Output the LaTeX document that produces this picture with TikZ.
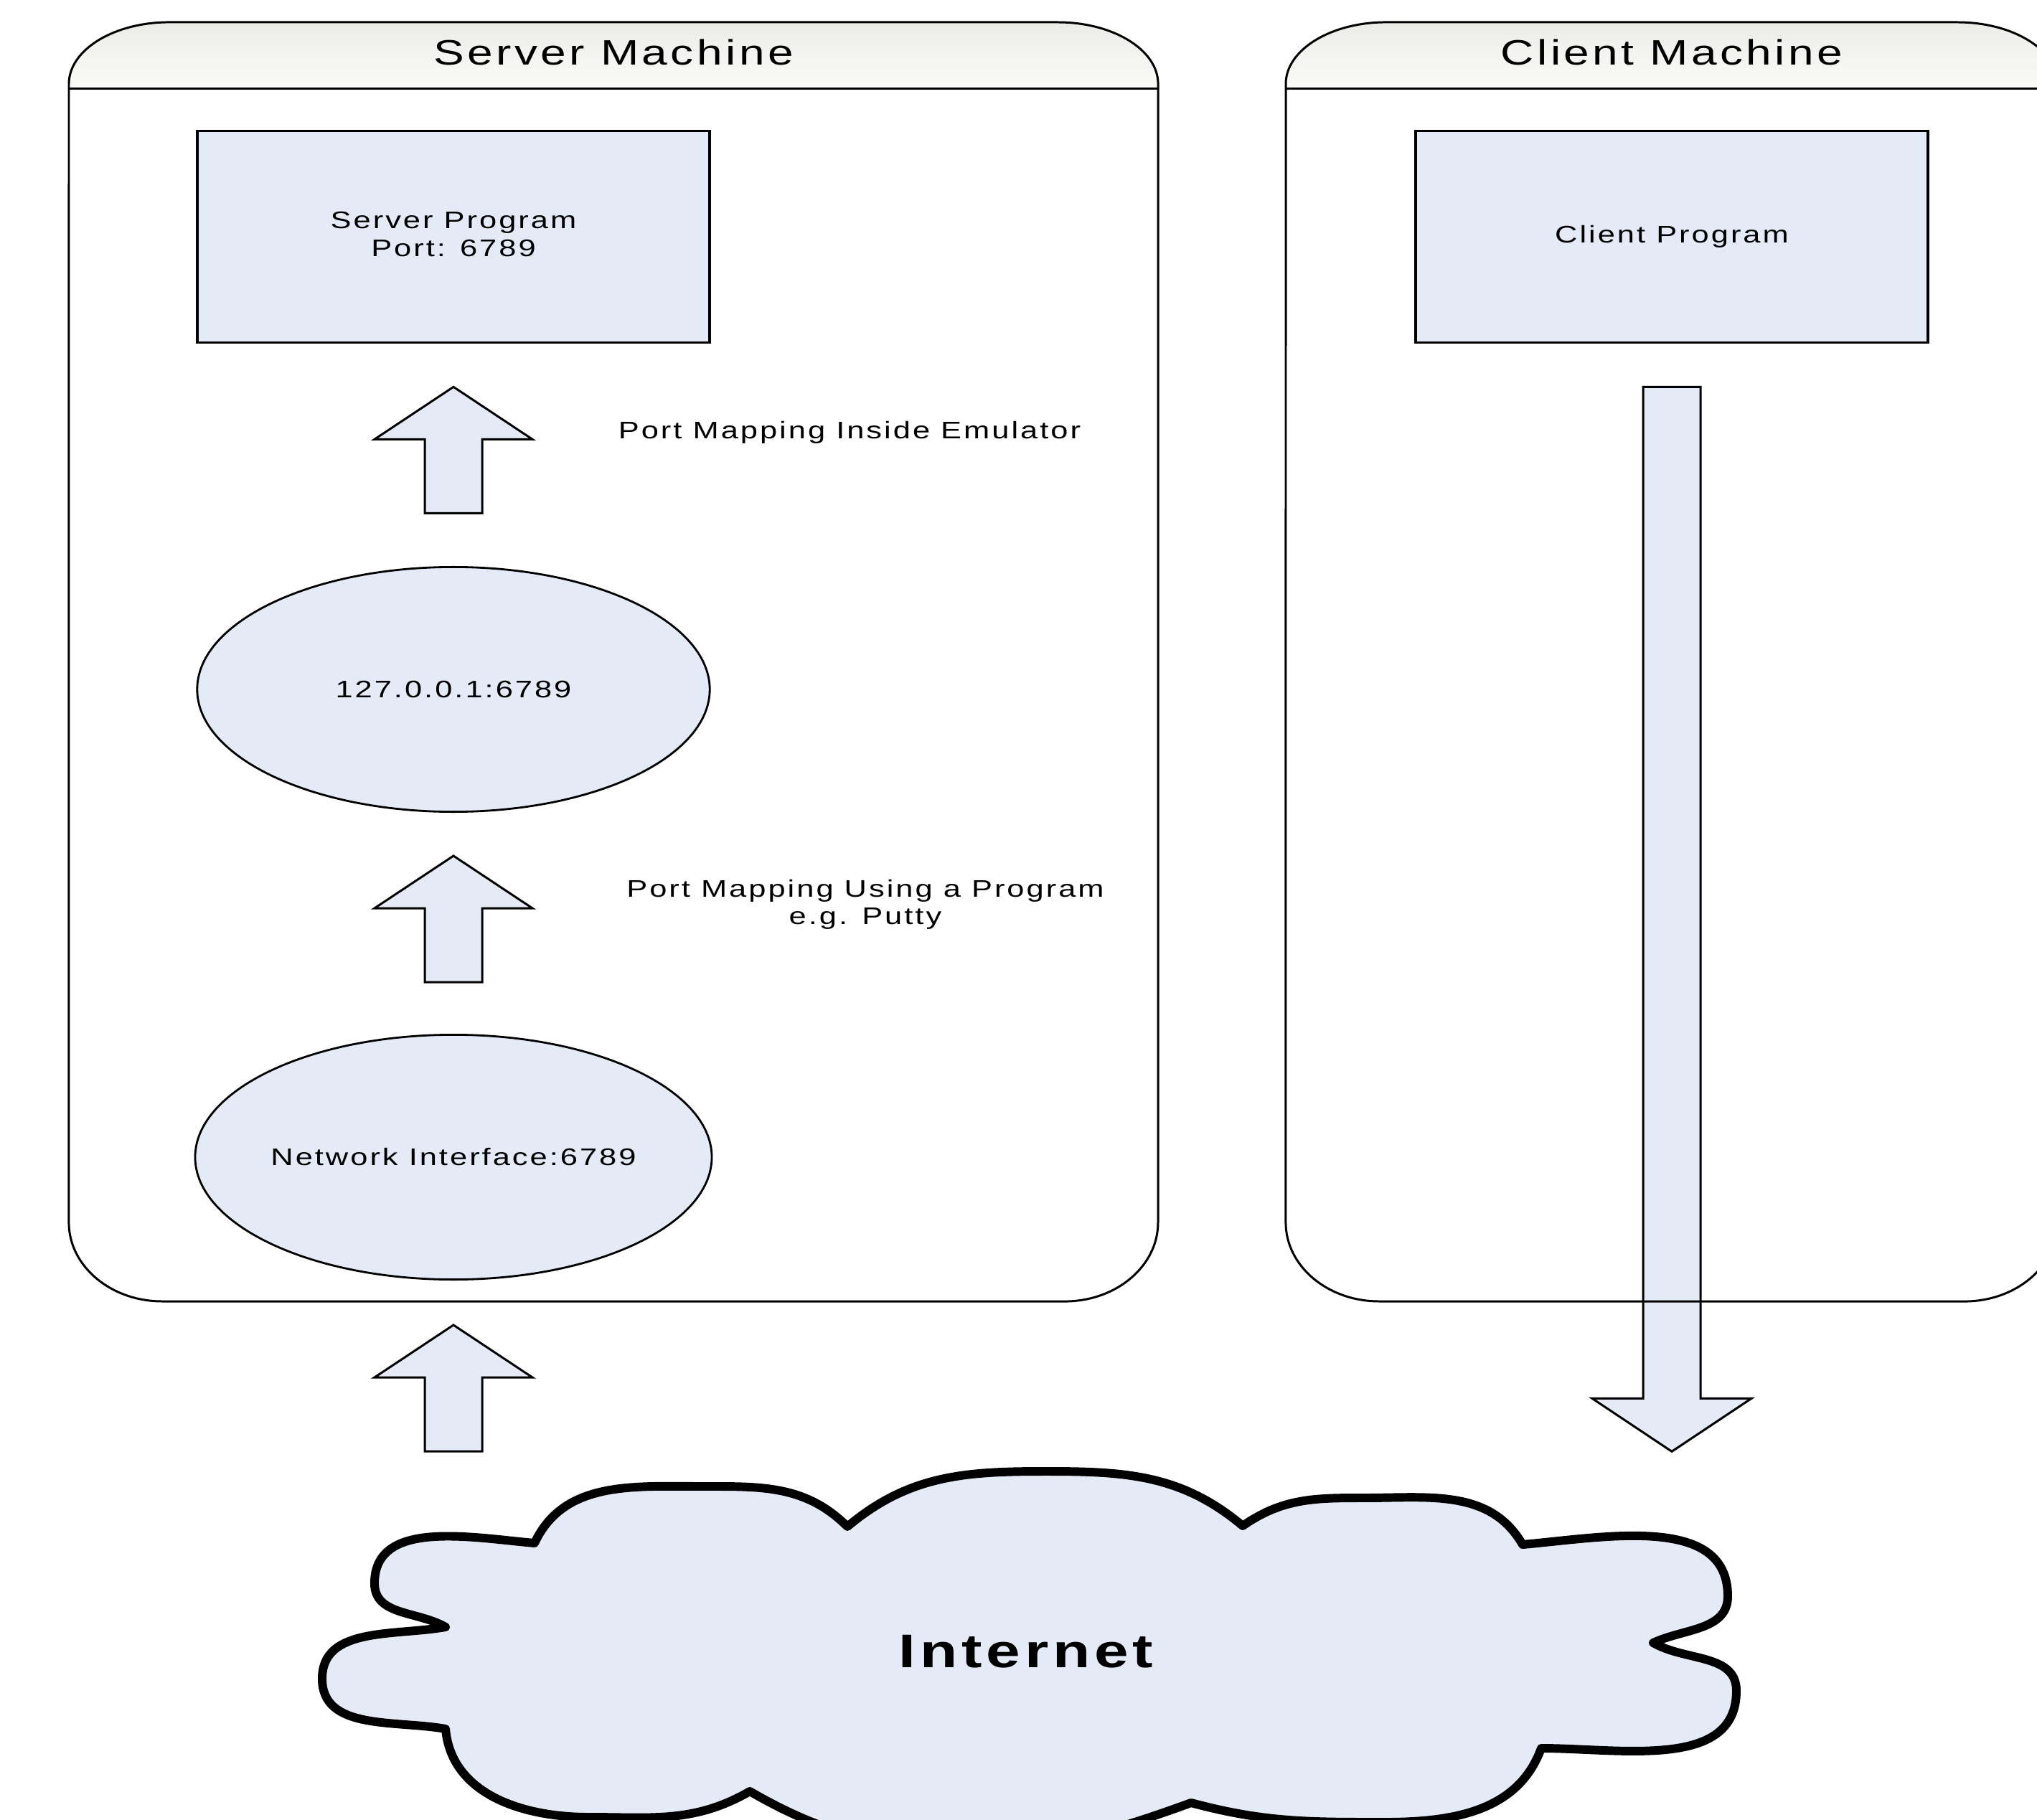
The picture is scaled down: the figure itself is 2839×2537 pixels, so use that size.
\documentclass[tikz,border=0pt]{standalone}
\usepackage{fontspec}
\setmainfont{Liberation Sans}
\newfontfamily\vis[FakeStretch=1.3,LetterSpace=9]{Liberation Sans}
\usetikzlibrary{shapes.geometric,calc}
\definecolor{fillblue}{RGB}{229,235,246}
\definecolor{headtop}{RGB}{236,236,231}
\definecolor{headbot}{RGB}{251,251,249}
\begin{document}
\begin{tikzpicture}[x=0.01cm,y=0.01cm,
  prog/.style={draw=black, line width=1pt, fill=fillblue, rectangle, minimum width=7.14cm, minimum height=2.95cm, inner sep=0pt, align=center, font=\vis\fontsize{9.5}{11}\selectfont},
  port/.style={draw=black, line width=0.8pt, fill=fillblue, ellipse, minimum width=7.14cm, minimum height=3.41cm, inner sep=0pt, font=\vis\fontsize{9.5}{11}\selectfont},
  blk/.style={draw=black, line width=0.85pt, fill=fillblue, line join=miter},
  frame/.style={draw=black, line width=0.85pt},
  lbl/.style={inner sep=0pt, align=center, font=\vis\fontsize{9.5}{11}\selectfont},
  titletext/.style={inner sep=0pt, font=\vis\fontsize{14}{17}\selectfont},
  cloudline/.style={draw=black, line width=3.4pt, fill=fillblue, line join=round}
]
\useasboundingbox (0,0) rectangle (2839,-2537);
\clip (0,0) rectangle (2839,-2537);
\fill[white] (0,0) rectangle (2839,-2537);

% header shadings
\shade[top color=headtop, bottom color=headbot] (96,-124) -- (96,-117)
  arc[start angle=180,end angle=90,x radius=1.4cm,y radius=0.86cm] -- (1474,-31)
  arc[start angle=90,end angle=0,x radius=1.4cm,y radius=0.86cm] -- (1614,-124) -- cycle;
\shade[top color=headtop, bottom color=headbot] (1792,-124) -- (1792,-117)
  arc[start angle=180,end angle=90,x radius=1.4cm,y radius=0.86cm] -- (2728,-31)
  arc[start angle=90,end angle=0,x radius=1.4cm,y radius=0.86cm] -- (2868,-124) -- cycle;

% titles
\node[titletext, anchor=base] (st) at (855,-91) {Server Machine};
\node[titletext, anchor=base] (ct) at (2330,-91) {Client Machine};

% program boxes and ports
\node[prog] (sp) at (632,-330) {\raisebox{0.06cm}{\begin{tabular}{@{}c@{}}Server Program\\Port: 6789\end{tabular}}};
\node[prog] (cp) at (2330,-330) {Client Program};
\node[port] (lh) at (632,-961) {127.0.0.1:6789};
\node[port] (ni) at (632,-1613) {Network Interface:6789};

% labels
\node[lbl, anchor=base] (l1) at (1184,-612) {Port Mapping Inside Emulator};
\node[lbl] (l2) at (1206,-1261) {Port Mapping Using a Program\\e.g. Putty};

% block arrows
\coordinate (a1) at ($(sp.south)+(0,-60)$);
\coordinate (a2) at ($(lh.south)+(0,-60)$);
\coordinate (a3) at ($(ni.south)+(0,-62)$);
\foreach \t in {a1,a2,a3}{
  \draw[blk] (\t) -- ++(-110,-73) -- ++(70,0) -- ++(0,-103) -- ++(80,0) -- ++(0,103) -- ++(70,0) -- cycle;
}
\coordinate (dtop) at ($(cp.south)+(0,-60)$);
\draw[blk] (dtop) ++(-40,0) -- ++(80,0) -- ++(0,-1410) -- ++(71,0) -- ++(-111,-74) -- ++(-111,74) -- ++(71,0) -- cycle;

% container outlines
\draw[frame] (96,-117) arc[start angle=180,end angle=90,x radius=1.4cm,y radius=0.86cm] -- (1474,-31)
  arc[start angle=90,end angle=0,x radius=1.4cm,y radius=0.86cm] -- (1614,-1704)
  arc[start angle=0,end angle=-90,x radius=1.3cm,y radius=1.1cm] -- (226,-1814)
  arc[start angle=-90,end angle=-180,x radius=1.3cm,y radius=1.1cm] -- cycle;
\draw[frame] (96,-124) -- (1614,-124);
\draw[frame] (1792,-117) arc[start angle=180,end angle=90,x radius=1.4cm,y radius=0.86cm] -- (2728,-31)
  arc[start angle=90,end angle=0,x radius=1.4cm,y radius=0.86cm] -- (2868,-1704)
  arc[start angle=0,end angle=-90,x radius=1.3cm,y radius=1.1cm] -- (1922,-1814)
  arc[start angle=-90,end angle=-180,x radius=1.3cm,y radius=1.1cm] -- cycle;
\draw[frame] (1792,-124) -- (2868,-124);

% cloud
\coordinate (V1) at (745,-2151);
\coordinate (P1) at (978,-2072);
\coordinate (V2) at (1181,-2128);
\coordinate (P2) at (1458,-2051);
\coordinate (V3) at (1732,-2127);
\coordinate (P3) at (1901,-2088);
\coordinate (V4) at (2122,-2153);
\coordinate (R4) at (2408,-2225);
\coordinate (V5) at (2304,-2290);
\coordinate (R5) at (2420,-2357);
\coordinate (V6) at (2148,-2437);
\coordinate (B6) at (1930,-2540);
\coordinate (V7) at (1660,-2513);
\coordinate (B7) at (1350,-2575);
\coordinate (V8) at (1045,-2497);
\coordinate (B8) at (820,-2533);
\coordinate (V9) at (621,-2410);
\coordinate (L9) at (449,-2340);
\coordinate (V10) at (621,-2268);
\coordinate (L10) at (522,-2207);
\draw[cloudline] (V1) to[out=65,in=180] (P1) to[out=0,in=135] (V2)
  to[out=40,in=180] (P2) to[out=0,in=140] (V3)
  to[out=35,in=180] (P3) to[out=0,in=120] (V4)
  to[out=5,in=90] (R4) to[out=-90,in=25] (V5)
  to[out=-30,in=90] (R5) to[out=-90,in=0] (V6)
  to[out=-110,in=0] (B6) to[out=180,in=-15] (V7)
  to[out=-160,in=0] (B7) to[out=180,in=-30] (V8)
  to[out=-150,in=0] (B8) to[out=180,in=-85] (V9)
  to[out=170,in=-90] (L9) to[out=90,in=190] (V10)
  to[out=150,in=-90] (L10) to[out=90,in=175] (V1) -- cycle;
\node[inner sep=0pt, anchor=base, font=\vis\bfseries\fontsize{18.7}{22}\selectfont] (inet) at (1430,-2324) {Internet};
\end{tikzpicture}
\end{document}
